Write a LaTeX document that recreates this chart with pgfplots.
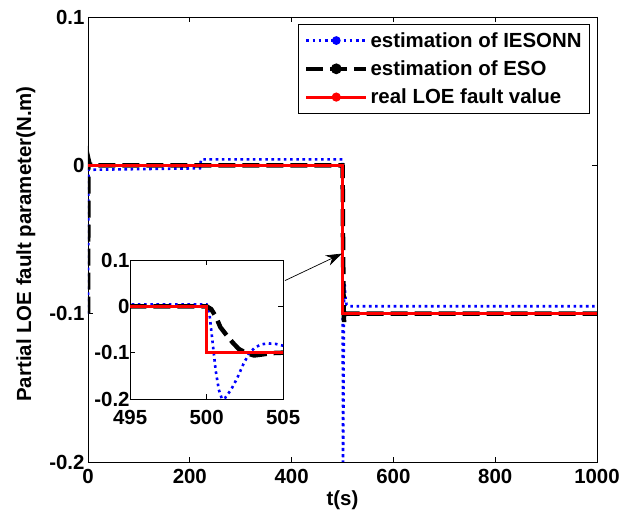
\documentclass[border=0pt]{standalone}
\usepackage{fontspec}
\setmainfont{Liberation Sans}
\usepackage{pgfplots}
\pgfplotsset{compat=1.18}
\usepackage{pgfplotstable}
\usetikzlibrary{calc,arrows.meta}

\pgfplotstableread{
t v
0 0
500 0
500 -0.1
1000 -0.1
}\realdata

\pgfplotstableread{
t v
0 -0.1
1 0.004
3 0.001
8 0
500 0
500.3 -0.006
500.6 -0.022
500.9 -0.045
501.3 -0.062
501.7 -0.078
502.1 -0.092
502.6 -0.101
503.1 -0.106
503.6 -0.104
504.2 -0.101
505 -0.1
1000 -0.1
}\esodata

\pgfplotstableread{
t v
0 -0.1
1 -0.003
220 -0.002
222 0.004
500 0.004
500.2 -0.02
500.4 -0.08
500.6 -0.14
500.8 -0.18
501.0 -0.2
501.2 -0.198
501.6 -0.18
502.0 -0.155
502.4 -0.125
502.8 -0.1
503.2 -0.088
503.6 -0.082
504.0 -0.08
504.5 -0.081
505 -0.085
506 -0.09
508 -0.094
515 -0.095
1000 -0.095
}\iesonndata

\tikzset{
  myfont/.style={font=\fontsize{20.5}{24}\selectfont\bfseries},
  blueline/.style={color=blue, line width=2.6bp, dash pattern=on 2.6bp off 3.6bp},
  blackline/.style={color=black, line width=4.5bp, dash pattern=on 17bp off 7bp},
  redline/.style={color=red, line width=3bp},
}

\begin{document}
\begin{tikzpicture}
\pgfplotsset{
  every axis/.append style={
    scale only axis,
    axis line style={line width=0.8bp},
    every tick/.style={black, line width=0.8bp},
    major tick length=5bp,
    tick label style={myfont},
    label style={myfont},
    /pgf/number format/assume math mode=true,
    /pgf/number format/1000 sep={},
  },
}
\begin{axis}[name=main, at={(0,0)}, anchor=south west,
  width=509bp, height=445bp,
  xmin=0, xmax=1000, ymin=-0.2, ymax=0.1,
  xtick={0,200,400,600,800,1000},
  xticklabels={0,200,400,600,800,1000},
  ytick={-0.2,-0.1,0,0.1},
  yticklabels={-0.2,-0.1,0,0.1},
  xticklabel style={yshift=-4bp},
  xlabel={t(s)},
  ylabel={Partial LOE fault parameter(N.m)},
  xlabel style={at={(axis description cs:0.5,-0.086)}, anchor=center},
  ylabel style={at={(axis description cs:-0.122,0.49)}, anchor=center},
  legend cell align=left,
  legend image code/.code={\draw[mark repeat=2,mark phase=2,#1] plot coordinates {(0bp,0bp) (30bp,0bp) (60bp,0bp)};},
  legend style={at={(1,1)}, anchor=north east, xshift=-7bp, yshift=-7bp,
    draw=black, line width=0.8bp, myfont, row sep=8bp, inner xsep=6bp, inner ysep=6bp},
]
\addlegendimage{blueline, mark=*, mark size=3bp, mark options={solid, fill=blue}}
\addlegendentry{estimation of IESONN}
\addlegendimage{blackline, mark=*, mark size=3bp, mark options={solid, fill=black}}
\addlegendentry{estimation of ESO}
\addlegendimage{redline, mark=*, mark size=3bp, mark options={solid, fill=red}}
\addlegendentry{real LOE fault value}
\addplot[blueline, forget plot] table[x=t,y=v] {\iesonndata};
\addplot[blackline, forget plot] table[x=t,y=v] {\esodata};
\addplot[redline, forget plot] table[x=t,y=v] {\realdata};
\draw[line width=0.7bp, -{Stealth[length=16bp, width=11bp]}] (axis cs:387,-0.0777) -- (axis cs:499,-0.0595);
\end{axis}
\begin{axis}[name=inset, at={($(main.south west)+(42bp,63bp)$)}, anchor=south west,
  width=153bp, height=139bp,
  xmin=495, xmax=505, ymin=-0.2, ymax=0.1,
  xtick={495,500,505},
  ytick={-0.2,-0.1,0,0.1},
  yticklabels={-0.2,-0.1,0,0.1},
  xticklabel style={yshift=-8bp},
  yticklabel style={xshift=3bp},
  axis background/.style={fill=white},
]
\addplot[blueline] table[x=t,y=v] {\iesonndata};
\addplot[blackline] table[x=t,y=v] {\esodata};
\addplot[redline] table[x=t,y=v] {\realdata};
\end{axis}
\pgfresetboundingbox
\path ($(main.south west)+(-88bp,-59bp)$) rectangle ($(main.north east)+(42bp,17bp)$);
\end{tikzpicture}
\end{document}
